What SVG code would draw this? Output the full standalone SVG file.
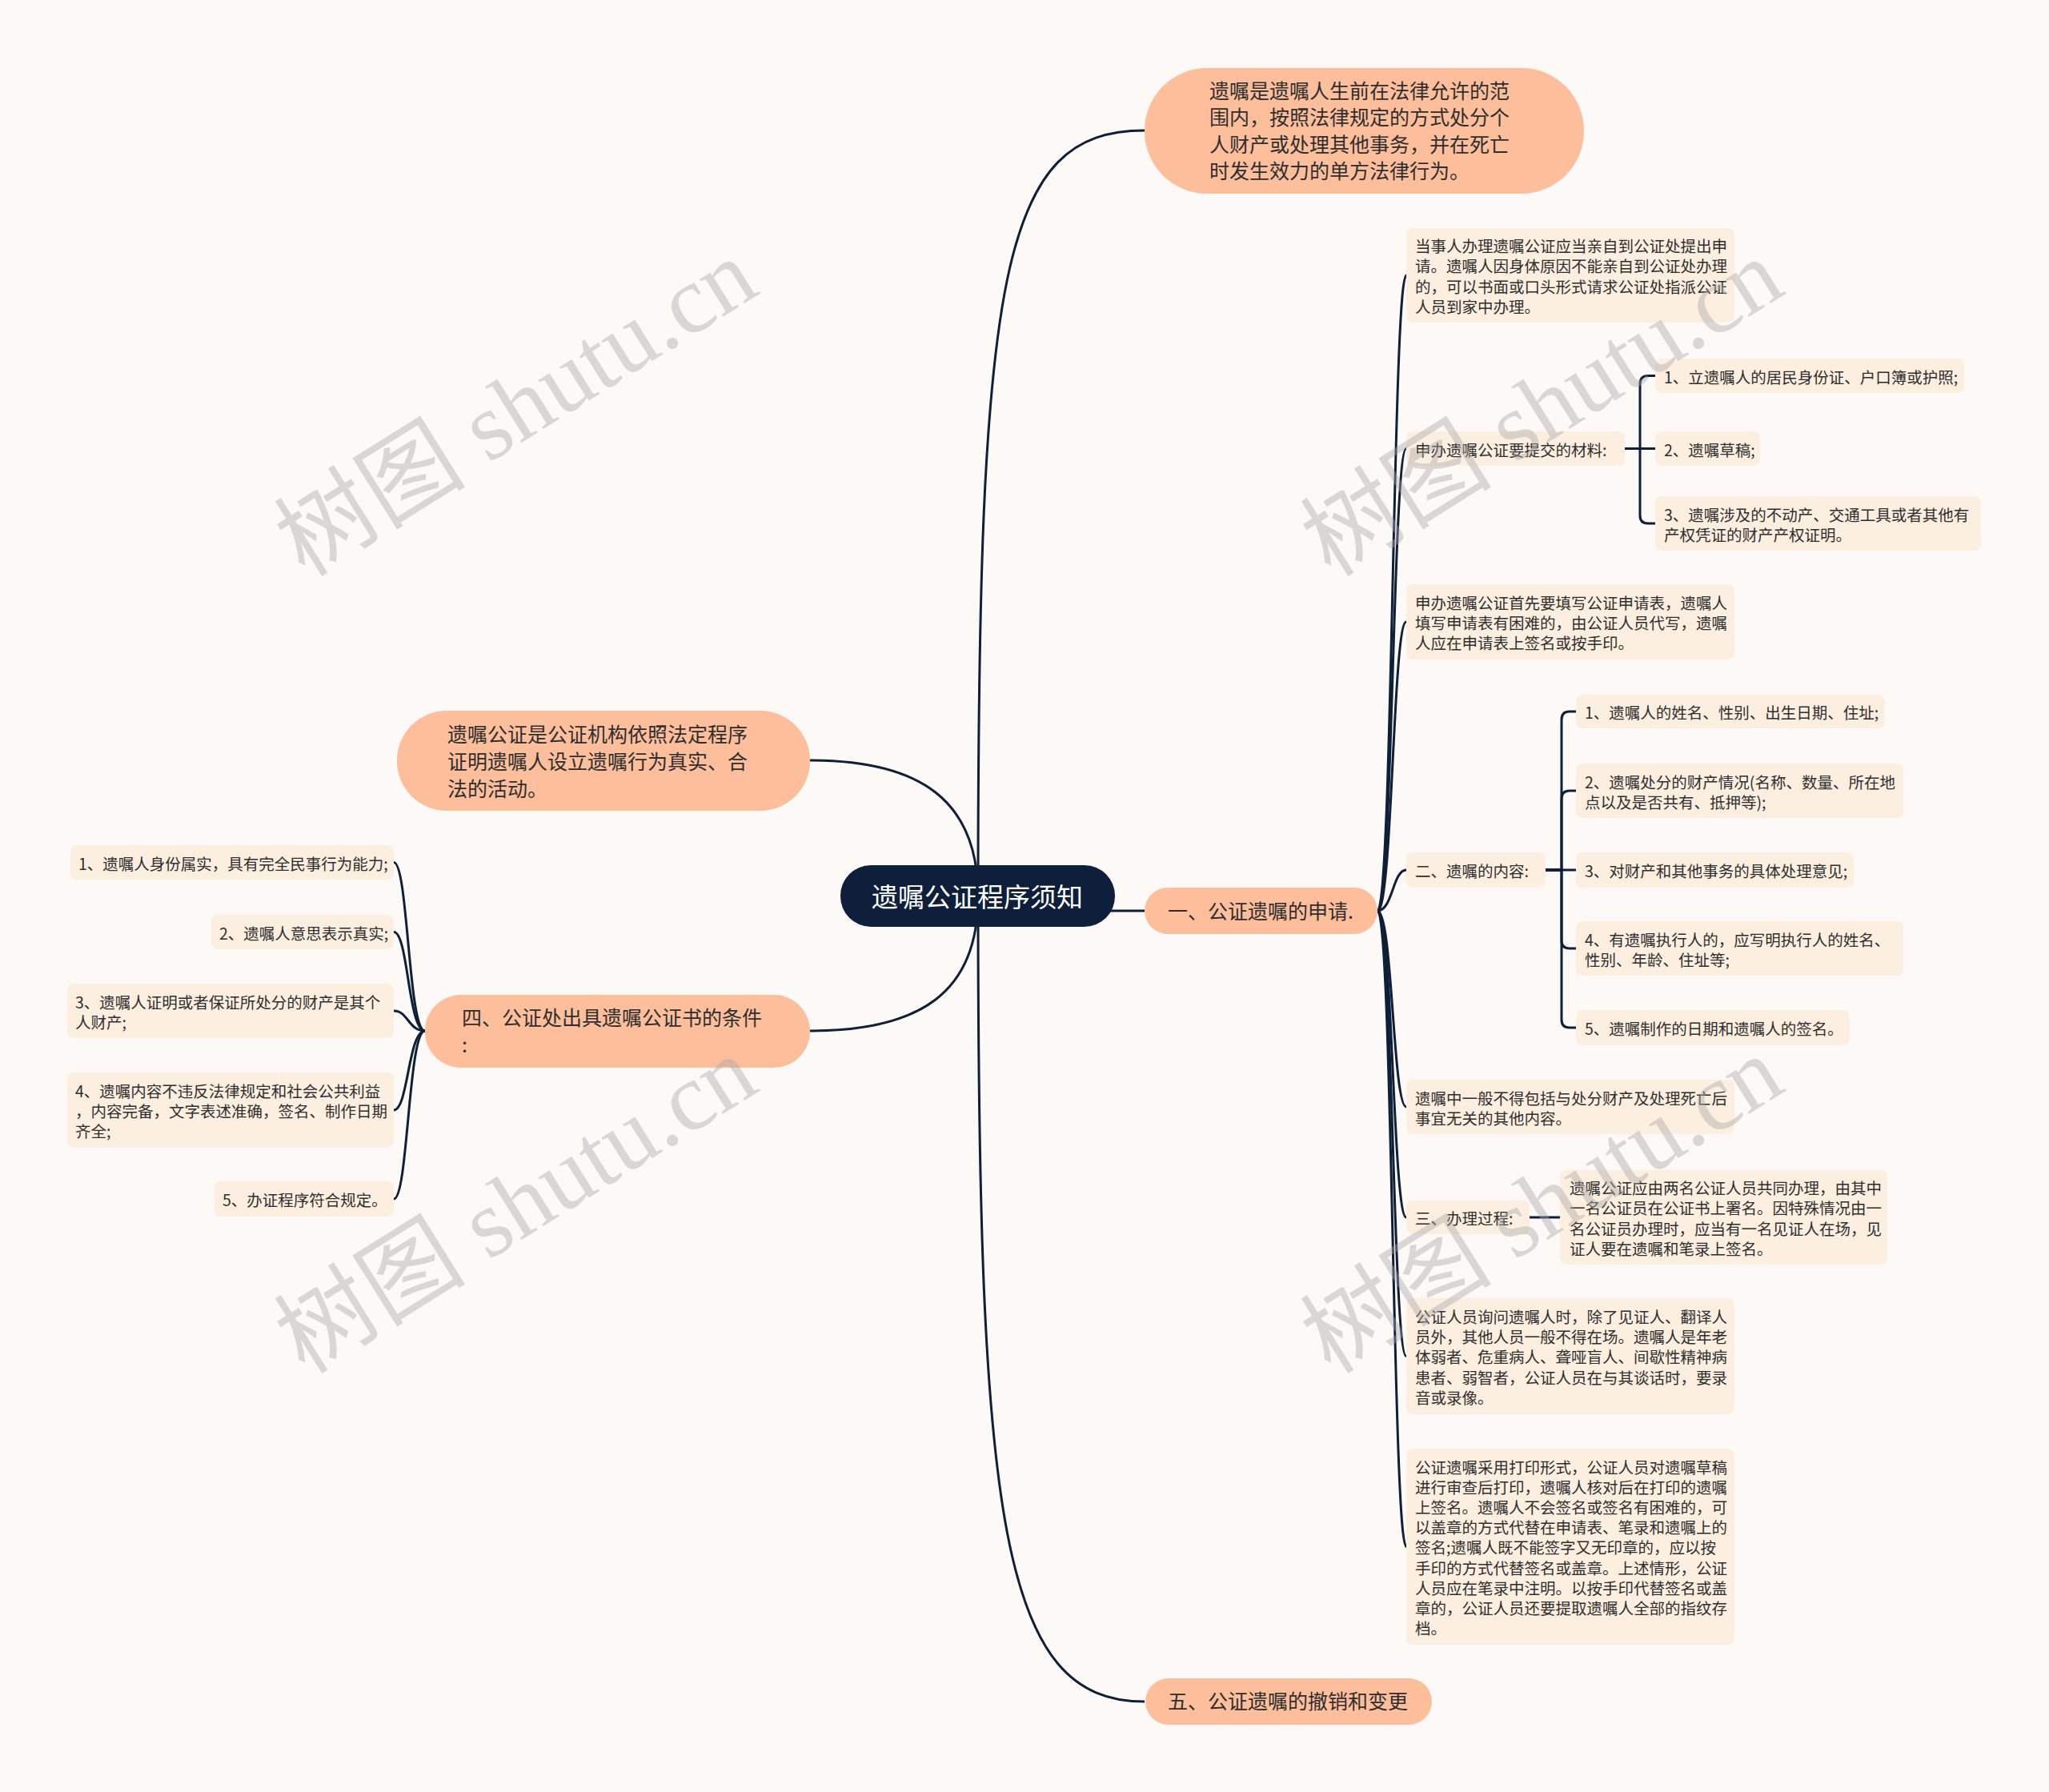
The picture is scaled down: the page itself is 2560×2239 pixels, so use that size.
<svg xmlns="http://www.w3.org/2000/svg" width="2560" height="2239" viewBox="0 0 2560 2239">
<style>
.c{fill:none;stroke:#0e1f38;stroke-width:3}
.l1{fill:#fdbe9c}
.l2{fill:#fdefe0}
.t{font-family:"Noto Sans CJK SC","Liberation Sans",sans-serif;fill:#2e2e2e;dominant-baseline:central}
.t1{font-size:25px}
.t2{font-size:19.5px}
.rt{font-family:"Noto Sans CJK SC","Liberation Sans",sans-serif;fill:#ffffff;font-size:33px;dominant-baseline:central;text-anchor:middle}
.wm{font-family:"Liberation Serif","Noto Sans CJK SC",serif;font-size:120px;fill:#a8a8a8;opacity:.42;text-anchor:middle}
</style>
<rect x="0" y="0" width="2560" height="2239" fill="#fdf9f7"/>
<g id="connectors">
<path class="c" d="M1222,1120 C1222,340 1250,163 1430,163"/>
<path class="c" d="M1222,1120 C1222,1000 1150,950 1012,950"/>
<path class="c" d="M1222,1138 L1430,1138"/>
<path class="c" d="M1222,1120 C1222,1240 1150,1288 1012,1288"/>
<path class="c" d="M1222,1120 C1222,1900 1250,2126 1430,2126"/>
<path class="c" d="M1721,1138 C1740,1138 1740,344 1757,344"/>
<path class="c" d="M1721,1138 C1740,1138 1740,560.5 1757,560.5"/>
<path class="c" d="M1721,1138 C1740,1138 1740,777 1757,777"/>
<path class="c" d="M1721,1138 C1740,1138 1740,1087 1757,1087"/>
<path class="c" d="M1721,1138 C1740,1138 1740,1383 1757,1383"/>
<path class="c" d="M1721,1138 C1740,1138 1740,1521 1757,1521"/>
<path class="c" d="M1721,1138 C1740,1138 1740,1694.5 1757,1694.5"/>
<path class="c" d="M1721,1138 C1740,1138 1740,1932.5 1757,1932.5"/>
<path class="c" d="M2030,560.5 H2049 V480 Q2049,469.5 2059,469.5 H2068"/>
<path class="c" d="M2030,560.5 H2068"/>
<path class="c" d="M2030,560.5 H2049 V644 Q2049,654 2059,654 H2068"/>
<path class="c" d="M1931,1087 H1951 V899 Q1951,889 1961,889 H1969"/>
<path class="c" d="M1931,1087 H1951 V998 Q1951,988 1961,988 H1969"/>
<path class="c" d="M1931,1087 H1969"/>
<path class="c" d="M1931,1087 H1951 V1175 Q1951,1185 1961,1185 H1969"/>
<path class="c" d="M1931,1087 H1951 V1274 Q1951,1284 1961,1284 H1969"/>
<path class="c" d="M1911,1521 H1949"/>
<path class="c" d="M531,1288 C510,1288 510,1077.5 492,1077.5"/>
<path class="c" d="M531,1288 C510,1288 510,1164.5 492,1164.5"/>
<path class="c" d="M531,1288 C510,1288 510,1263 492,1263"/>
<path class="c" d="M531,1288 C510,1288 510,1387 492,1387"/>
<path class="c" d="M531,1288 C510,1288 510,1498 492,1498"/>
</g>
<g id="root">
<rect x="1050" y="1081" width="343" height="77" rx="38" fill="#0d1f3a"/>
<text class="rt" x="1221" y="1119">遗嘱公证程序须知</text>
</g>
<g id="n-def">
<rect class="l1" x="1430" y="85" width="549" height="157" rx="78"/>
<text class="t t1" x="1511" y="112">遗嘱是遗嘱人生前在法律允许的范</text>
<text class="t t1" x="1511" y="145">围内，按照法律规定的方式处分个</text>
<text class="t t1" x="1511" y="179">人财产或处理其他事务，并在死亡</text>
<text class="t t1" x="1511" y="212">时发生效力的单方法律行为。</text>
</g>
<g id="n-gz">
<rect class="l1" x="496" y="888" width="516" height="125" rx="62"/>
<text class="t t1" x="559" y="916">遗嘱公证是公证机构依照法定程序</text>
<text class="t t1" x="559" y="950">证明遗嘱人设立遗嘱行为真实、合</text>
<text class="t t1" x="559" y="984">法的活动。</text>
</g>
<g id="n-1">
<rect class="l1" x="1430" y="1109" width="291" height="58" rx="29"/>
<text class="t t1" x="1459" y="1137">一、公证遗嘱的申请.</text>
</g>
<g id="n-4">
<rect class="l1" x="531" y="1243" width="481" height="91" rx="45"/>
<text class="t t1" x="577" y="1270">四、公证处出具遗嘱公证书的条件</text>
<text class="t t1" x="577" y="1304">:</text>
</g>
<g id="n-5">
<rect class="l1" x="1431" y="2097" width="358" height="58" rx="29"/>
<text class="t t1" x="1459" y="2124">五、公证遗嘱的撤销和变更</text>
</g>
<g id="c1">
<rect class="l2" x="1757" y="285" width="410" height="118" rx="8"/>
<text class="t t2" x="1768" y="306">当事人办理遗嘱公证应当亲自到公证处提出申</text>
<text class="t t2" x="1768" y="331">请。遗嘱人因身体原因不能亲自到公证处办理</text>
<text class="t t2" x="1768" y="357">的，可以书面或口头形式请求公证处指派公证</text>
<text class="t t2" x="1768" y="382">人员到家中办理。</text>
</g>
<g id="c2">
<rect class="l2" x="1757" y="539" width="273" height="43" rx="8"/>
<text class="t t2" x="1768" y="561">申办遗嘱公证要提交的材料:</text>
</g>
<g id="c2a">
<rect class="l2" x="2068" y="448" width="386" height="43" rx="8"/>
<text class="t t2" x="2079" y="470">1、立遗嘱人的居民身份证、户口簿或护照;</text>
</g>
<g id="c2b">
<rect class="l2" x="2068" y="539" width="131" height="43" rx="8"/>
<text class="t t2" x="2079" y="561">2、遗嘱草稿;</text>
</g>
<g id="c2c">
<rect class="l2" x="2068" y="620" width="407" height="68" rx="8"/>
<text class="t t2" x="2079" y="642">3、遗嘱涉及的不动产、交通工具或者其他有</text>
<text class="t t2" x="2079" y="667">产权凭证的财产产权证明。</text>
</g>
<g id="c3">
<rect class="l2" x="1757" y="730" width="410" height="94" rx="8"/>
<text class="t t2" x="1768" y="752">申办遗嘱公证首先要填写公证申请表，遗嘱人</text>
<text class="t t2" x="1768" y="777">填写申请表有困难的，由公证人员代写，遗嘱</text>
<text class="t t2" x="1768" y="802">人应在申请表上签名或按手印。</text>
</g>
<g id="c4">
<rect class="l2" x="1757" y="1065" width="174" height="44" rx="8"/>
<text class="t t2" x="1768" y="1087">二、遗嘱的内容:</text>
</g>
<g id="c4a">
<rect class="l2" x="1969" y="868" width="386" height="42" rx="8"/>
<text class="t t2" x="1980" y="889">1、遗嘱人的姓名、性别、出生日期、住址;</text>
</g>
<g id="c4b">
<rect class="l2" x="1969" y="954" width="409" height="68" rx="8"/>
<text class="t t2" x="1980" y="976">2、遗嘱处分的财产情况(名称、数量、所在地</text>
<text class="t t2" x="1980" y="1001">点以及是否共有、抵押等);</text>
</g>
<g id="c4c">
<rect class="l2" x="1969" y="1065" width="347" height="44" rx="8"/>
<text class="t t2" x="1980" y="1087">3、对财产和其他事务的具体处理意见;</text>
</g>
<g id="c4d">
<rect class="l2" x="1969" y="1151" width="409" height="68" rx="8"/>
<text class="t t2" x="1980" y="1173">4、有遗嘱执行人的，应写明执行人的姓名、</text>
<text class="t t2" x="1980" y="1198">性别、年龄、住址等;</text>
</g>
<g id="c4e">
<rect class="l2" x="1969" y="1262" width="342" height="44" rx="8"/>
<text class="t t2" x="1980" y="1284">5、遗嘱制作的日期和遗嘱人的签名。</text>
</g>
<g id="c5">
<rect class="l2" x="1757" y="1349" width="410" height="68" rx="8"/>
<text class="t t2" x="1768" y="1371">遗嘱中一般不得包括与处分财产及处理死亡后</text>
<text class="t t2" x="1768" y="1396">事宜无关的其他内容。</text>
</g>
<g id="c6">
<rect class="l2" x="1757" y="1500" width="154" height="42" rx="8"/>
<text class="t t2" x="1768" y="1521">三、办理过程:</text>
</g>
<g id="c6a">
<rect class="l2" x="1949" y="1462" width="409" height="118" rx="8"/>
<text class="t t2" x="1961" y="1483">遗嘱公证应由两名公证人员共同办理，由其中</text>
<text class="t t2" x="1961" y="1508">一名公证员在公证书上署名。因特殊情况由一</text>
<text class="t t2" x="1961" y="1534">名公证员办理时，应当有一名见证人在场，见</text>
<text class="t t2" x="1961" y="1559">证人要在遗嘱和笔录上签名。</text>
</g>
<g id="c7">
<rect class="l2" x="1757" y="1622" width="410" height="145" rx="8"/>
<text class="t t2" x="1768" y="1644">公证人员询问遗嘱人时，除了见证人、翻译人</text>
<text class="t t2" x="1768" y="1669">员外，其他人员一般不得在场。遗嘱人是年老</text>
<text class="t t2" x="1768" y="1694.5">体弱者、危重病人、聋哑盲人、间歇性精神病</text>
<text class="t t2" x="1768" y="1720">患者、弱智者，公证人员在与其谈话时，要录</text>
<text class="t t2" x="1768" y="1745">音或录像。</text>
</g>
<g id="c8">
<rect class="l2" x="1757" y="1810" width="410" height="245" rx="8"/>
<text class="t t2" x="1768" y="1832">公证遗嘱采用打印形式，公证人员对遗嘱草稿</text>
<text class="t t2" x="1768" y="1857">进行审查后打印，遗嘱人核对后在打印的遗嘱</text>
<text class="t t2" x="1768" y="1882">上签名。遗嘱人不会签名或签名有困难的，可</text>
<text class="t t2" x="1768" y="1907.5">以盖章的方式代替在申请表、笔录和遗嘱上的</text>
<text class="t t2" x="1768" y="1932.5">签名;遗嘱人既不能签字又无印章的，应以按</text>
<text class="t t2" x="1768" y="1958">手印的方式代替签名或盖章。上述情形，公证</text>
<text class="t t2" x="1768" y="1983">人员应在笔录中注明。以按手印代替签名或盖</text>
<text class="t t2" x="1768" y="2008">章的，公证人员还要提取遗嘱人全部的指纹存</text>
<text class="t t2" x="1768" y="2033">档。</text>
</g>
<g id="L1">
<rect class="l2" x="88" y="1056" width="404" height="43" rx="8"/>
<text class="t t2" x="98" y="1078">1、遗嘱人身份属实，具有完全民事行为能力;</text>
</g>
<g id="L2">
<rect class="l2" x="264" y="1143" width="228" height="43" rx="8"/>
<text class="t t2" x="274" y="1165">2、遗嘱人意思表示真实;</text>
</g>
<g id="L3">
<rect class="l2" x="84" y="1229" width="408" height="68" rx="8"/>
<text class="t t2" x="94" y="1251">3、遗嘱人证明或者保证所处分的财产是其个</text>
<text class="t t2" x="94" y="1276">人财产;</text>
</g>
<g id="L4">
<rect class="l2" x="84" y="1340" width="408" height="94" rx="8"/>
<text class="t t2" x="94" y="1362">4、遗嘱内容不违反法律规定和社会公共利益</text>
<text class="t t2" x="94" y="1387">，内容完备，文字表述准确，签名、制作日期</text>
<text class="t t2" x="94" y="1412">齐全;</text>
</g>
<g id="L5">
<rect class="l2" x="268" y="1476" width="224" height="44" rx="8"/>
<text class="t t2" x="278" y="1498">5、办证程序符合规定。</text>
</g>
<g id="watermarks">
<text class="wm" transform="translate(645,510) rotate(-32)" x="0" y="40">树图 shutu.cn</text>
<text class="wm" transform="translate(1927,510) rotate(-32)" x="0" y="40">树图 shutu.cn</text>
<text class="wm" transform="translate(645,1506) rotate(-32)" x="0" y="40">树图 shutu.cn</text>
<text class="wm" transform="translate(1927,1506) rotate(-32)" x="0" y="40">树图 shutu.cn</text>
</g>
</svg>
